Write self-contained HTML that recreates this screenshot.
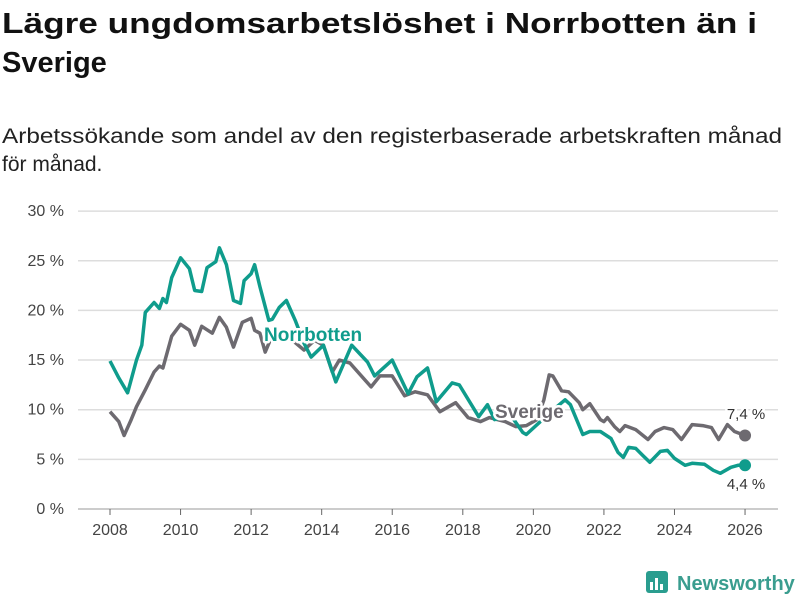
<!DOCTYPE html>
<html><head><meta charset="utf-8"><style>
html,body{margin:0;padding:0;background:#fff;}
svg{display:block;font-family:"Liberation Sans",sans-serif;}
</style></head><body>
<svg id="chart" width="800" height="600" viewBox="0 0 800 600">
<text x="2" y="33" font-size="29" font-weight="bold" fill="#111" textLength="755" lengthAdjust="spacingAndGlyphs">Lägre ungdomsarbetslöshet i Norrbotten än i</text>
<text x="2" y="72" font-size="29" font-weight="bold" fill="#111">Sverige</text>
<text x="2" y="143" font-size="21" fill="#222" textLength="780" lengthAdjust="spacingAndGlyphs">Arbetssökande som andel av den registerbaserade arbetskraften månad</text>
<text x="2" y="171" font-size="21" fill="#222">för månad.</text>
<g id="grid"></g><g id="xaxis"></g><g id="lines"></g><g id="labels"></g>
<g>
<rect x="646" y="571" width="22" height="22" rx="3" fill="#2a9d8f"/>
<rect x="650" y="582" width="3" height="8" fill="#fff"/><rect x="655" y="578" width="3" height="12" fill="#fff"/><rect x="660" y="584" width="3" height="6" fill="#fff"/>
<text x="677" y="590" font-size="20" font-weight="bold" fill="#3a9d8f">Newsworthy</text>
</g>
</svg>
<script>
const yTicks=[0,5,10,15,20,25,30];
const yTickLabels=["0 %","5 %","10 %","15 %","20 %","25 %","30 %"];
const xTicks=[2008,2010,2012,2014,2016,2018,2020,2022,2024,2026];
const sveDates=[2008.0,2008.25,2008.4,2008.6,2008.75,2009.0,2009.25,2009.4,2009.5,2009.75,2010.0,2010.25,2010.4,2010.6,2010.9,2011.1,2011.3,2011.5,2011.75,2012.0,2012.1,2012.25,2012.4,2012.6,2013.0,2013.5,2013.8,2014.05,2014.3,2014.5,2014.8,2015.4,2015.65,2016.0,2016.35,2016.65,2017.0,2017.35,2017.8,2018.15,2018.5,2018.75,2019.2,2019.5,2019.8,2020.1,2020.3,2020.45,2020.55,2020.8,2021.0,2021.3,2021.4,2021.6,2021.9,2022.0,2022.1,2022.3,2022.45,2022.6,2022.9,2023.25,2023.45,2023.7,2023.95,2024.2,2024.5,2024.8,2025.05,2025.25,2025.5,2025.7,2026.0];
const sveValues=[9.8,8.8,7.4,9,10.3,12,13.8,14.4,14.2,17.4,18.6,18,16.5,18.4,17.7,19.3,18.3,16.3,18.8,19.2,18,17.7,15.8,17.5,17.5,16,17,16.5,13.8,15,14.7,12.3,13.4,13.4,11.4,11.8,11.5,9.8,10.7,9.2,8.8,9.2,8.8,8.3,8.4,9,11,13.5,13.4,11.9,11.8,10.7,10,10.6,9,8.8,9.2,8.3,7.8,8.4,8,7,7.8,8.2,8,7,8.5,8.4,8.2,7,8.5,7.8,7.4];
const norDates=[2008.0,2008.25,2008.5,2008.75,2008.9,2009.0,2009.25,2009.4,2009.5,2009.6,2009.75,2010.0,2010.25,2010.4,2010.6,2010.75,2011.0,2011.1,2011.3,2011.5,2011.7,2011.8,2012.0,2012.1,2012.25,2012.5,2012.6,2012.8,2013.0,2013.25,2013.5,2013.7,2014.05,2014.4,2014.85,2015.3,2015.5,2016.0,2016.45,2016.7,2017.0,2017.25,2017.7,2017.9,2018.45,2018.7,2018.9,2019.35,2019.7,2019.8,2020.2,2020.5,2020.9,2021.05,2021.4,2021.6,2021.9,2022.2,2022.4,2022.55,2022.7,2022.9,2023.1,2023.3,2023.6,2023.8,2024.0,2024.3,2024.5,2024.85,2025.1,2025.3,2025.6,2025.8,2026.0];
const norValues=[14.9,13.2,11.7,15,16.5,19.8,20.8,20.2,21.2,20.8,23.3,25.3,24.2,22,21.9,24.3,24.9,26.3,24.6,21,20.7,23,23.7,24.6,22.4,19,19.1,20.3,21,19,16.7,15.3,16.5,12.8,16.5,14.8,13.4,15,11.6,13.3,14.2,10.8,12.7,12.5,9.3,10.5,9,9.5,7.7,7.5,8.8,9.8,11,10.5,7.5,7.8,7.8,7.1,5.7,5.2,6.2,6.1,5.4,4.7,5.8,5.9,5.1,4.4,4.6,4.5,3.9,3.6,4.2,4.4,4.4];
const NS="http://www.w3.org/2000/svg";
const x=v=>110+(v-2008)*35.28;
const y=v=>509-v*9.93;
function mk(tag,attrs,parent){const e=document.createElementNS(NS,tag);for(const k in attrs)e.setAttribute(k,attrs[k]);parent.appendChild(e);return e;}
const grid=document.getElementById('grid');
yTicks.forEach((t,i)=>{
 const l=mk('line',{x1:78,x2:778,y1:y(t),y2:y(t),stroke:t===0?'#bbb':'#ddd','stroke-width':1.5},grid);
 
 
 const tx=mk('text',{x:64,y:y(t)+5,'text-anchor':'end','font-size':16,fill:'#444'},grid);
 tx.textContent=yTickLabels[i];
 
 
});
const xa=document.getElementById('xaxis');
xTicks.forEach(t=>{
 const l=mk('line',{x1:x(t),x2:x(t),y1:509,y2:515,stroke:'#666','stroke-width':1},xa);
 
 
 const tx=mk('text',{x:x(t),y:535,'text-anchor':'middle','font-size':16,fill:'#444'},xa);
 tx.textContent=String(t);
 
 
});
const lines=document.getElementById('lines');
function series(d,v,color,name){
 const p=mk('path',{d:d.map((t,i)=>(i?'L':'M')+x(t).toFixed(1)+','+y(v[i]).toFixed(1)).join(''),fill:'none',stroke:color,'stroke-width':3.5,'stroke-linejoin':'round'},lines);
 
 
 const n=d.length-1;
 const c=mk('circle',{cx:x(d[n]),cy:y(v[n]),r:6,fill:color},lines);
 
 
}
series(sveDates,sveValues,'#6d6a70','sverige');
series(norDates,norValues,'#0f9c8c','norrbotten');
const lab=document.getElementById('labels');
function label(txt,xx,yy,col,size,bold,name,anchor){
 const t=mk('text',{x:xx,y:yy,'font-size':size,'font-weight':bold?'bold':'normal',fill:col,stroke:'#fff','stroke-width':5,'paint-order':'stroke','stroke-linejoin':'round','text-anchor':anchor||'start'},lab);
 t.textContent=txt;
 
 
}
label('Norrbotten',264,341,'#0f9c8c',19,true,'norrbotten-label');
label('Sverige',495,418,'#6d6a70',19,true,'sverige-label');
label('7,4 %',746,419,'#333',15,false,'sverige-end-value','middle');
label('4,4 %',746,489,'#333',15,false,'norrbotten-end-value','middle');
</script>
</body></html>
